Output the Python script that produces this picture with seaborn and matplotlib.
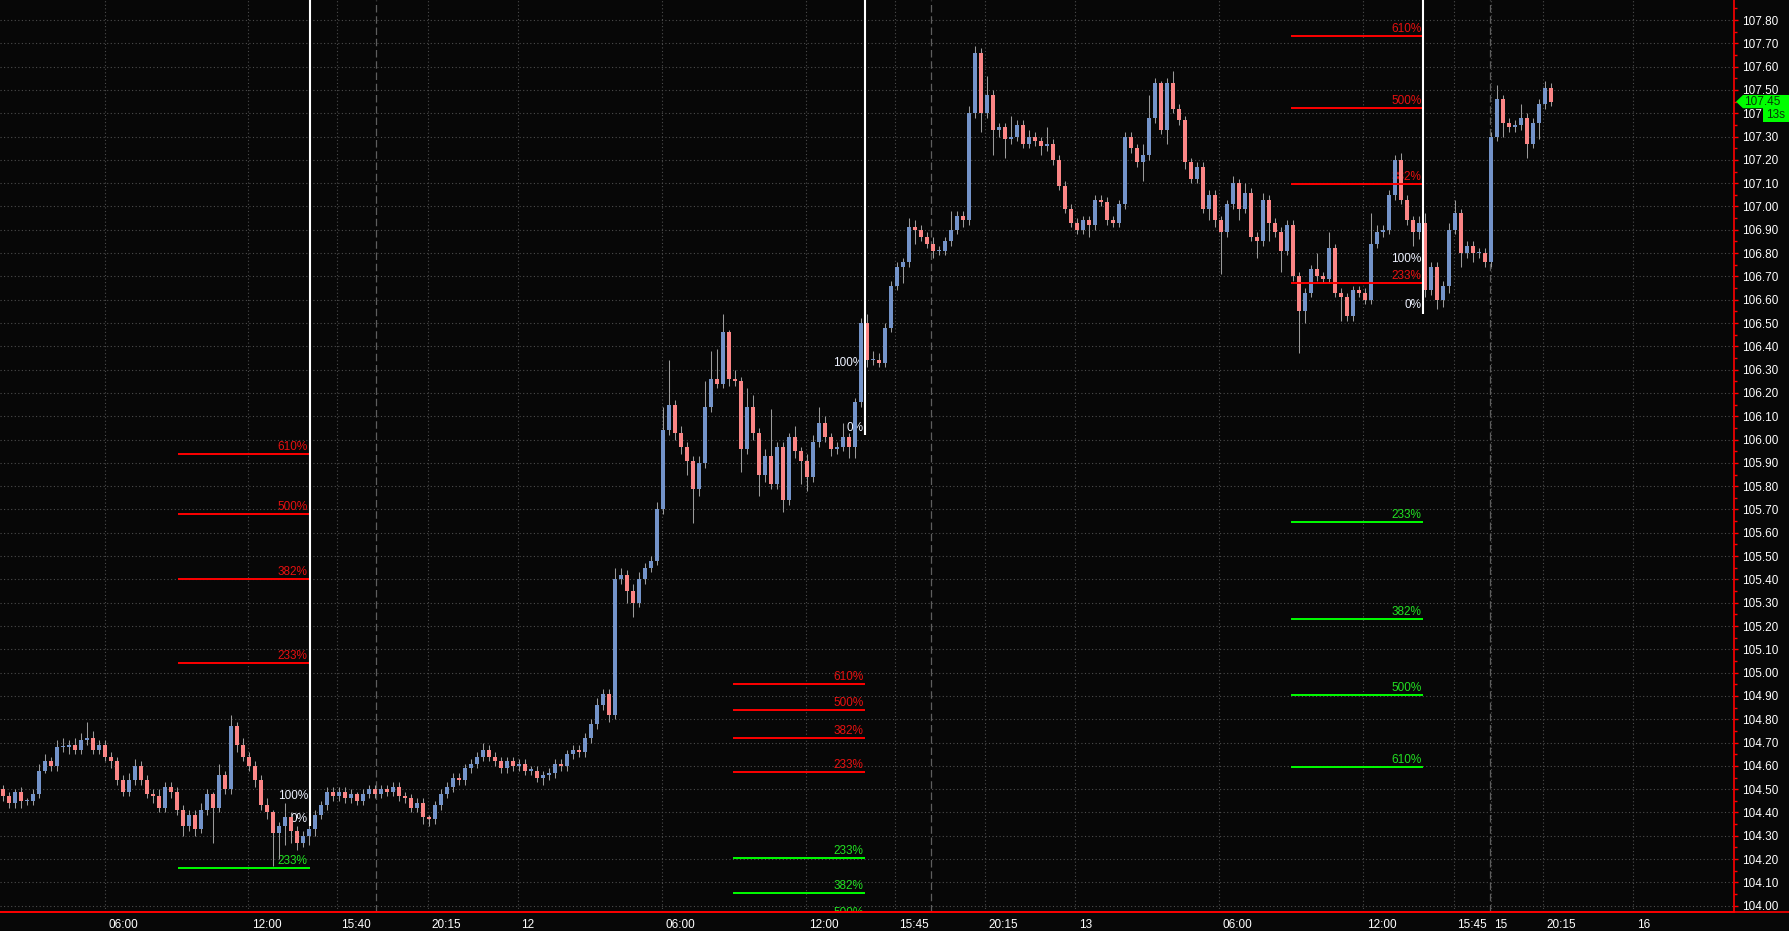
print("Starting chart script...")

import numpy as np
import pandas as pd
import matplotlib
matplotlib.use('Agg')
import matplotlib.pyplot as plt
import matplotlib.transforms as mtransforms
from matplotlib.patches import Polygon, Rectangle
from matplotlib.lines import Line2D
from matplotlib.ticker import MultipleLocator
import seaborn as sns

# --- Data: 15 min candle closes ---
first_open = 104.50
closes = [
    # day 11, before the first fib marker
    104.47, 104.44, 104.49, 104.45, 104.45, 104.48, 104.58, 104.62, 104.60, 104.68,
    104.68, 104.69, 104.67, 104.71, 104.72, 104.67, 104.69, 104.64, 104.62, 104.54,
    104.49, 104.54, 104.60, 104.54, 104.48, 104.47, 104.42, 104.51, 104.49, 104.41,
    104.34, 104.39, 104.33, 104.41, 104.48, 104.42, 104.56, 104.50, 104.77, 104.69,
    104.64, 104.60, 104.54, 104.43, 104.40, 104.31, 104.34, 104.38, 104.32, 104.27,
    104.30, 104.33,
    # slow climb and the breakout
    104.39, 104.43, 104.49, 104.47, 104.49, 104.46, 104.48, 104.45, 104.48, 104.50,
    104.48, 104.50, 104.49, 104.51, 104.47, 104.46, 104.42, 104.44, 104.38, 104.37,
    104.43, 104.48, 104.51, 104.55, 104.54, 104.59, 104.61, 104.64, 104.67, 104.64,
    104.62, 104.59, 104.62, 104.60, 104.61, 104.58, 104.58, 104.55, 104.56, 104.57,
    104.61, 104.60, 104.65, 104.67, 104.66, 104.72, 104.78, 104.86, 104.91, 104.82,
    105.40, 105.42, 105.35, 105.30, 105.40, 105.45, 105.48, 105.70,
    # day 12 range around 106
    106.04, 106.15, 106.03, 105.97, 105.91, 105.79, 105.90, 106.14, 106.26, 106.24,
    106.46, 106.26, 106.25, 105.96, 106.14, 106.03, 105.85, 105.93, 105.81, 105.97,
    105.74, 106.01, 105.95, 105.91, 105.84, 105.99, 106.07, 106.01, 105.96, 105.97,
    106.01, 105.97, 106.16, 106.50, 106.34, 106.34, 106.33,
    # push to the high
    106.48, 106.66, 106.74, 106.76, 106.91, 106.90, 106.87, 106.84, 106.81, 106.81,
    106.85, 106.90, 106.96, 106.94, 107.40, 107.66, 107.40, 107.48, 107.33, 107.34,
    107.29, 107.30, 107.35, 107.27, 107.30, 107.28, 107.26, 107.27, 107.20, 107.09,
    106.99, 106.93, 106.90, 106.94, 106.92, 107.03, 107.02, 106.94, 106.93, 107.01,
    107.30, 107.25, 107.19, 107.22, 107.38, 107.53, 107.33, 107.53, 107.42, 107.37,
    107.19,
    # day 13 pullback
    107.12, 107.17, 106.99, 107.05, 106.94, 106.89, 107.01, 107.10, 106.99, 107.06,
    106.87, 106.85, 107.03, 106.93, 106.89, 106.81, 106.92, 106.70, 106.55, 106.63,
    106.73, 106.70, 106.69, 106.82, 106.63, 106.61, 106.53, 106.64, 106.63, 106.60,
    106.84, 106.89, 106.90, 107.05, 107.20, 107.03, 106.94, 106.89, 106.93,
    # last session
    106.64, 106.74, 106.60, 106.66, 106.90, 106.97, 106.80, 106.83, 106.80, 106.80,
    106.76, 107.30, 107.46, 107.36, 107.34, 107.35, 107.38, 107.27, 107.36, 107.44,
    107.51, 107.45,
]

# wick length above / below the body, in cents
up_wick = [
    2, 2, 1, 2, 1, 2, 3, 3, 2, 3, 4, 2, 3, 3, 7, 3, 2, 2, 2, 2, 2, 3, 3, 2, 2, 2, 3, 2, 2, 2,
    2, 2, 2, 3, 2, 1, 5, 2, 5, 2, 3, 2, 2, 2, 3, 1, 2, 6, 2, 2, 2, 3,
    2, 2, 2, 2, 2, 2, 2, 1, 2, 2, 2, 2, 2, 2, 2, 2, 2, 2, 2, 1, 2, 2, 2, 2, 2, 2, 2, 2, 3, 2,
    2, 2, 2, 2, 2, 2, 2, 2, 2, 2, 2, 2, 2, 2, 2, 2, 2, 3, 2, 2, 5, 3, 2, 3, 3, 2, 2, 3,
    10, 19, 2, 3, 2, 2, 3, 11, 12, 13, 8, 1, 4, 2, 8, 5, 2, 3, 20, 2, 2, 2, 5, 2, 3, 3, 7, 3,
    2, 2, 6, 2, 2, 2, 4, 4, 3,
    2, 2, 2, 2, 4, 3, 2, 2, 3, 2, 2, 8, 2, 2, 3, 3, 2, 8, 2, 2, 2, 9, 2, 2, 3, 2, 2, 7, 2, 2,
    2, 2, 2, 2, 2, 2, 2, 2, 2, 2, 2, 2, 2, 5, 10, 2, 1, 2, 5, 2, 2,
    2, 2, 2, 2, 2, 2, 2, 3, 2, 4, 2, 2, 3, 2, 2, 2, 2, 2, 2, 2, 2, 7, 2, 7, 2, 2, 2, 2, 2, 2,
    13, 3, 2, 2, 2, 3, 2, 2, 3,
    4, 2, 2, 2, 3, 6, 2, 2, 2, 2, 2, 2, 6, 2, 2, 2, 6, 2, 2, 2, 3, 2,
]
dn_wick = [
    2, 2, 2, 3, 2, 2, 2, 1, 2, 2, 2, 3, 2, 2, 2, 2, 2, 2, 3, 2, 2, 2, 2, 2, 2, 3, 2, 2, 3, 2,
    4, 2, 3, 2, 2, 15, 2, 2, 2, 3, 2, 2, 3, 2, 3, 14, 11, 8, 5, 3, 2, 4,
    3, 2, 2, 2, 2, 2, 2, 2, 2, 2, 2, 2, 2, 2, 2, 2, 2, 2, 3, 3, 2, 2, 2, 2, 2, 2, 2, 2, 2, 2,
    2, 2, 2, 2, 2, 2, 2, 2, 3, 2, 2, 2, 2, 2, 2, 2, 2, 2, 2, 3, 2, 2, 5, 6, 2, 2, 2, 2,
    2, 2, 3, 3, 6, 15, 3, 2, 2, 2, 2, 3, 2, 10, 2, 3, 9, 3, 2, 2, 5, 2, 3, 10, 6, 2, 2, 2,
    3, 2, 2, 5, 5, 2, 3, 2, 2,
    2, 2, 2, 7, 2, 6, 2, 2, 3, 2, 2, 2, 2, 3, 2, 2, 8, 2, 11, 3, 8, 2, 2, 2, 2, 2, 4, 2, 2, 2,
    2, 2, 2, 2, 5, 2, 2, 2, 2, 2, 2, 2, 2, 8, 2, 2, 2, 6, 2, 2, 3,
    2, 2, 2, 5, 3, 18, 2, 2, 5, 2, 2, 7, 2, 8, 2, 9, 2, 2, 18, 5, 2, 2, 2, 2, 2, 10, 2, 2, 2, 2,
    2, 2, 2, 2, 2, 2, 2, 6, 3,
    3, 2, 4, 3, 3, 2, 6, 2, 4, 2, 2, 2, 2, 6, 2, 2, 2, 6, 2, 7, 2, 2,
]

# --- Time axis (positions in candle units) ---
xtick_pos = [17.0, 40.9, 55.75, 70.8, 85.8, 109.8, 133.8, 148.7, 163.7, 178.7,
             202.7, 226.7, 241.8, 248.0, 256.7, 271.7]
xtick_lbl = ['06:00', '12:00', '15:40', '20:15', '12', '06:00', '12:00', '15:45',
             '20:15', '13', '06:00', '12:00', '15:45', '15', '20:15', '16']
session_breaks = [62.2, 154.7, 247.8]

# --- Fibonacci markers ---
fib_pct_red = ['610%', '500%', '382%', '233%']
fib_a_span = (29.1, 51.1)
fib_a_red = [105.94, 105.68, 105.40, 105.04]
fib_a_green = [104.16]
fib_a_green_lbl = ['233%']
fib_a_marks = [104.47, 104.37]
fib_a_stop = 104.34

fib_b_span = (121.7, 143.7)
fib_b_red = [104.95, 104.84, 104.72, 104.575]
fib_b_green = [104.205, 104.055, 103.94]
fib_b_green_lbl = ['233%', '382%', '500%']
fib_b_marks = [106.33, 106.05]
fib_b_stop = 106.02

fib_c_span = (214.75, 236.7)
fib_c_red = [107.733, 107.424, 107.095, 106.673]
fib_c_green = [105.648, 105.231, 104.904, 104.595]
fib_c_green_lbl = ['233%', '382%', '500%', '610%']
fib_c_marks = [106.775, 106.577]
fib_c_stop = 106.54

last_price = 107.45
timer_text = '13s'

assert len(closes) == len(up_wick) == len(dn_wick)

# --- Build OHLC table ---
df = pd.DataFrame({'close': closes})
df['open'] = [first_open] + closes[:-1]
df['x'] = np.arange(len(df))
body_top = df[['open', 'close']].max(axis=1)
body_bot = df[['open', 'close']].min(axis=1)
df['high'] = body_top + np.array(up_wick) / 100.0
df['low'] = body_bot - np.array(dn_wick) / 100.0

# --- Style ---
BG = '#070707'
GRID = '#4c4c4c'
UP = '#7393c9'
DOWN = '#fb8585'
WICK = '#9a9a9a'
RED = '#ff0000'
GREEN = '#00ff00'

sns.set_style('dark', {'axes.facecolor': BG, 'figure.facecolor': BG})
plt.rcParams['font.family'] = ['Liberation Sans', 'DejaVu Sans']

W, H = 1790, 931
fig = plt.figure(figsize=(W / 100, H / 100), dpi=100, facecolor=BG)
ax = fig.add_axes([0, 19 / H, 1734 / W, 912 / H])
ax.set_facecolor(BG)

ymin, ymax = 103.973, 107.886
ax.set_xlim(-0.5, 288.5)
ax.set_ylim(ymin, ymax)

# --- Grid and session breaks ---
ax.set_axisbelow(True)
ax.grid(True, which='major', color=GRID, linestyle=(0, (1, 2.2)), linewidth=0.8)
for xb in session_breaks:
    ax.axvline(xb, color='#5e5e5e', linestyle=(0, (6, 3)), linewidth=0.9, zorder=1)

# --- Candles ---
colors = np.where(df['close'] >= df['open'], UP, DOWN)
ax.vlines(df['x'], df['low'], df['high'], color=WICK, linewidth=0.75, zorder=3)
heights = np.maximum(body_top - body_bot, 0.005)
ax.bar(df['x'], heights, bottom=body_bot, width=0.64, color=colors, linewidth=0, zorder=4)

# --- Fibonacci drawings ---
def draw_fib(span, red, green, green_lbl, marks, stop):
    x0, x1 = span
    ax.vlines(x1, stop, ymax + 0.1, color='white', linewidth=1.5, zorder=6)
    for lvl, lbl in zip(red, fib_pct_red):
        ax.hlines(lvl, x0, x1, color=RED, linewidth=1.4, zorder=5)
        ax.text(x1 - 0.3, lvl + 0.004, lbl, color='#e81010', fontsize=8.5,
                ha='right', va='bottom', zorder=2.5, clip_on=True)
    for lvl, lbl in zip(green, green_lbl):
        ax.hlines(lvl, x0, x1, color=GREEN, linewidth=1.4, zorder=5)
        ax.text(x1 - 0.3, lvl + 0.004, lbl, color='#22e022', fontsize=8.5,
                ha='right', va='bottom', zorder=2.5, clip_on=True)
    for lvl, lbl in zip(marks, ['100%', '0%']):
        ax.text(x1 - 0.3, lvl, lbl, color='#eef2ff', fontsize=8.5,
                ha='right', va='center', zorder=2.5)

draw_fib(fib_a_span, fib_a_red, fib_a_green, fib_a_green_lbl, fib_a_marks, fib_a_stop)
draw_fib(fib_b_span, fib_b_red, fib_b_green, fib_b_green_lbl, fib_b_marks, fib_b_stop)
draw_fib(fib_c_span, fib_c_red, fib_c_green, fib_c_green_lbl, fib_c_marks, fib_c_stop)

# --- Axes, ticks and spines ---
yticks = np.round(np.arange(104.0, 107.81, 0.1), 2)
ax.yaxis.tick_right()
ax.set_yticks(yticks)
ax.set_yticklabels([f'{v:.2f}' for v in yticks])
ax.yaxis.set_minor_locator(MultipleLocator(0.05))
ax.tick_params(axis='y', which='major', colors=RED, labelcolor='white',
               length=3, width=1, pad=3, labelsize=8.5, right=True, left=False)
ax.tick_params(axis='y', which='minor', colors=RED, length=2, width=1, right=True, left=False)

ax.set_xticks(xtick_pos)
ax.set_xticklabels(xtick_lbl)
ax.tick_params(axis='x', colors=RED, labelcolor='white', length=3, width=1,
               pad=2, labelsize=8.5)
offset = mtransforms.ScaledTranslation(2.5 / 72, 0, fig.dpi_scale_trans)
for lbl in ax.get_xticklabels():
    lbl.set_horizontalalignment('left')
    lbl.set_transform(lbl.get_transform() + offset)

for side in ['top', 'left']:
    ax.spines[side].set_visible(False)
for side in ['right', 'bottom']:
    ax.spines[side].set_color(RED)
    ax.spines[side].set_linewidth(1.2)
fig.add_artist(Line2D([0, 1], [19 / H, 19 / H], transform=fig.transFigure,
                      color=RED, linewidth=1.2))

# --- Last price tag ---
tag_tf = mtransforms.blended_transform_factory(fig.transFigure, ax.transData)
tip, box_l, half = 1736 / W, 1743 / W, 0.0285
tag = Polygon([[tip, last_price], [box_l, last_price + half], [1.0, last_price + half],
               [1.0, last_price - half], [box_l, last_price - half]],
              closed=True, transform=tag_tf, facecolor=GREEN, edgecolor='none', zorder=10)
fig.add_artist(tag)
fig.text(1744 / W, last_price, f'{last_price:.2f}', transform=tag_tf, color='#083808',
         fontsize=8.5, ha='left', va='center', zorder=11)
timer = Rectangle((1763 / W, last_price - half - 0.057), 27 / W, 0.057,
                  transform=tag_tf, facecolor=GREEN, edgecolor='none', zorder=10)
fig.add_artist(timer)
fig.text(1766 / W, last_price - half - 0.0285, timer_text, transform=tag_tf,
         color='#083808', fontsize=8.5, ha='left', va='center', zorder=11)

fig.savefig('out.png', dpi=100, facecolor=BG)
print("Saved out.png")
